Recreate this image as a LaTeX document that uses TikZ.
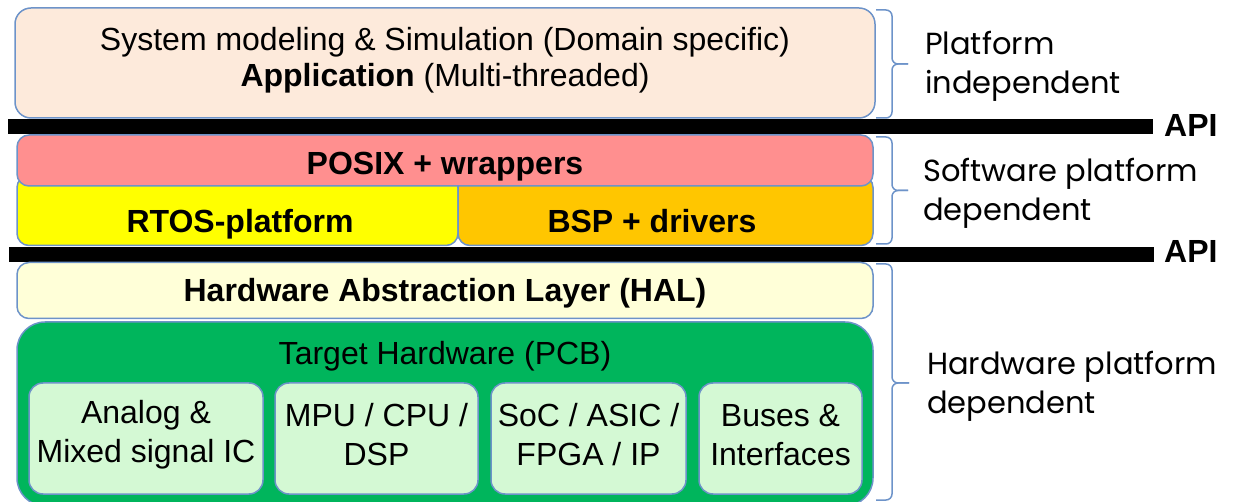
\documentclass[tikz,border=0pt]{standalone}
\usepackage{fontspec}
\setmainfont{Liberation Sans}
\newfontfamily\gothicfont{Poppins}
\definecolor{edgeblue}{HTML}{6D93C9}
\definecolor{appfill}{HTML}{FDEADB}
\definecolor{posixfill}{HTML}{FF8F8F}
\definecolor{rtosfill}{HTML}{FFFF00}
\definecolor{bspfill}{HTML}{FFC600}
\definecolor{halfill}{HTML}{FFFFD8}
\definecolor{pcbfill}{HTML}{00B55C}
\definecolor{partfill}{HTML}{D4F9D4}

\begin{document}
\begin{tikzpicture}[x=1pt,y=-1pt,
  layer/.style={draw=edgeblue, line width=1.5pt, inner sep=0pt, outer sep=0pt},
  txt/.style={font=\fontsize{32}{39}\selectfont, inner sep=0pt, align=center},
  btxt/.style={inner sep=0pt, anchor=base, font=\fontsize{32}{39}\selectfont\bfseries},
  side/.style={font=\gothicfont\fontsize{30.5}{39}\selectfont, inner sep=0pt, align=left, anchor=north west},
  apibar/.style={fill=black, inner sep=0pt, outer sep=0pt, minimum width=1145pt, minimum height=15pt},
  bracket/.style={draw=edgeblue, line width=1.5pt, rounded corners=6pt},
  part/.style={layer, fill=partfill, rounded corners=14pt, minimum height=111pt}
]
\useasboundingbox (0,0) rectangle (1234,502);

% application layer
\node[layer, fill=appfill, rounded corners=16pt, minimum width=860pt, minimum height=110pt] (app) at (445,63) {};
\node[txt, font=\fontsize{32}{36}\selectfont] (appT) at (445,60) {System modeling \& Simulation (Domain specific)\\\textbf{Application} (Multi-threaded)};

% upper API
\node[apibar] (bar1) at (580.5,126.5) {};
\node[btxt, anchor=base west] (api1) at (1164,137) {API};

% software platform
\node[layer, fill=rtosfill, rounded corners=12pt, minimum width=441pt, minimum height=70pt] (rtos) at (237.5,210.5) {};
\node[layer, fill=bspfill, rounded corners=12pt, minimum width=415pt, minimum height=70pt] (bsp) at (665.5,210.5) {};
\node[layer, fill=posixfill, rounded corners=12pt, minimum width=856pt, minimum height=51pt] (posix) at (445,160.5) {};
\node[btxt] (posixT) at (445,175) {POSIX + wrappers};
\node[btxt] (rtosT) at (240,233) {RTOS-platform};
\node[btxt] (bspT) at (652,233) {BSP + drivers};

% lower API
\node[apibar] (bar2) at (581.5,254.5) {};
\node[btxt, anchor=base west] (api2) at (1164,263) {API};

% hardware platform
\node[layer, fill=halfill, rounded corners=12pt, minimum width=856pt, minimum height=56pt] (hal) at (445,290.5) {};
\node[btxt] (halT) at (445,302) {Hardware Abstraction Layer (HAL)};
\node[layer, fill=pcbfill, rounded corners=28pt, minimum width=856pt, minimum height=184pt] (pcb) at (445,414) {};
\node[txt, anchor=base] (pcbT) at (445,365) {Target Hardware (PCB)};

\node[part, minimum width=234pt] (analog) at (146,438.5) {};
\node[part, minimum width=203pt] (mpu) at (376.5,438.5) {};
\node[part, minimum width=195pt] (soc) at (588.5,438.5) {};
\node[part, minimum width=163pt] (bus) at (780.5,438.5) {};
\node[txt] (analogT) at (146,435) {Analog \&\\Mixed signal IC};
\node[txt] (mpuT) at (376.5,435) {MPU / CPU /\\DSP};
\node[txt] (socT) at (588.5,435) {SoC / ASIC /\\FPGA / IP};
\node[txt] (busT) at (780.5,435) {Buses \&\\Interfaces};

% level braces: each half bends from its end to the centre tip
\draw[bracket] (876,10) -- (892,10) -- (892,64) -- (908,64);
\draw[bracket] (876,118) -- (892,118) -- (892,64) -- (908,64);
\draw[bracket] (876,137) -- (892,137) -- (892,190.5) -- (908,190.5);
\draw[bracket] (876,244) -- (892,244) -- (892,190.5) -- (908,190.5);
\draw[bracket] (876,264) -- (892,264) -- (892,383) -- (909,383);
\draw[bracket] (876,500) -- (892,500) -- (892,383) -- (909,383);

% level captions
\node[side] (lvl1) at (925,31) {Platform\\independent};
\node[side] (lvl2) at (923,158) {Software platform\\dependent};
\node[side] (lvl3) at (927,351) {Hardware platform\\dependent};
\end{tikzpicture}
\end{document}
